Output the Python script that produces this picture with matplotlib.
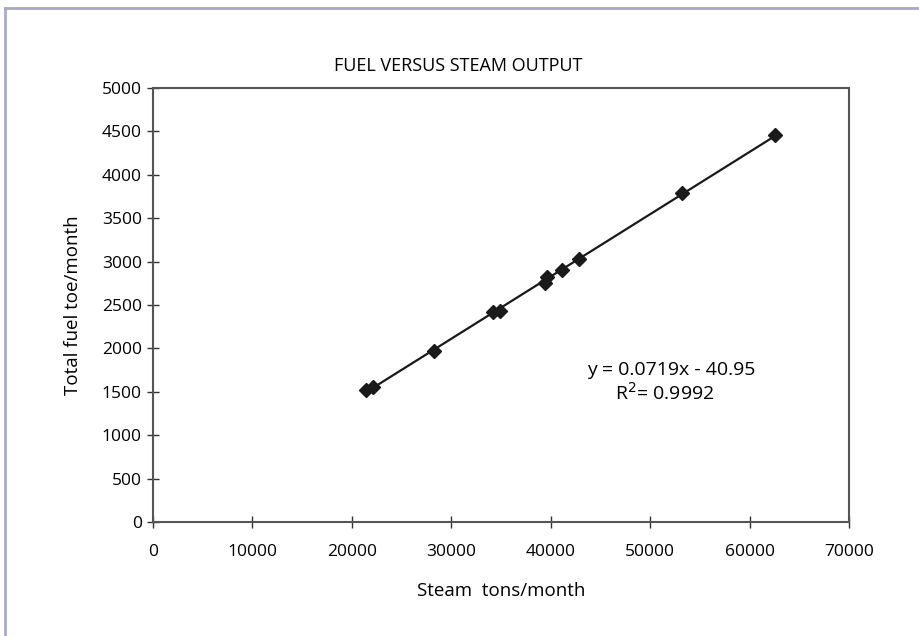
import numpy as np
import matplotlib
matplotlib.use("Agg")
import matplotlib.pyplot as plt
from matplotlib.lines import Line2D

steam = [21400, 22100, 28300, 34200, 34900, 39400, 39600, 41100, 42800, 53200, 62600]
fuel = [1520, 1560, 1970, 2420, 2430, 2750, 2820, 2900, 3030, 3790, 4460]
x_ticks = [0, 10000, 20000, 30000, 40000, 50000, 60000, 70000]
y_ticks = [0, 500, 1000, 1500, 2000, 2500, 3000, 3500, 4000, 4500, 5000]

plt.rcParams['font.family'] = ['Open Sans', 'DejaVu Sans']

fig = plt.figure(figsize=(9.2, 6.36), dpi=100)
ax = fig.add_axes([153/920, 1-522/636, (849-153)/920, (522-88)/636])

slope, intercept = np.polyfit(steam, fuel, 1)
xs = np.array([min(steam), max(steam)])
ax.plot(xs, slope*xs + intercept, color='#1a1a1a', lw=1.6, zorder=2)
ax.plot(steam, fuel, linestyle='none', marker='D', markersize=7, color='#1a1a1a', zorder=3)

ax.set_xlim(0, 70000)
ax.set_ylim(0, 5000)
ax.set_xticks(x_ticks)
ax.set_yticks(y_ticks)
ax.set_xticklabels([str(v) for v in x_ticks])
ax.set_yticklabels([str(v) for v in y_ticks])
for s in ax.spines.values():
    s.set_color('#555555')
    s.set_linewidth(1.5)
ax.tick_params(direction='inout', length=8, width=1, color='#333333', labelsize=12.5)
ax.tick_params(axis='x', pad=12)
ax.tick_params(axis='y', pad=4)

fig.text(458/920, 1-66/636, 'FUEL VERSUS STEAM OUTPUT', ha='center', va='center', fontsize=13)
ax.set_xlabel('Steam  tons/month', fontsize=13.5, labelpad=16)
ax.set_ylabel('Total fuel toe/month', fontsize=13.5, labelpad=14)

ax.text(0.745, 0.35, 'y = 0.0719x - 40.95', transform=ax.transAxes, ha='center', va='center', fontsize=14)
ax.text(0.735, 0.298, 'R$^2$= 0.9992', transform=ax.transAxes, ha='center', va='center', fontsize=14)

fig.add_artist(Line2D([5/920, 5/920], [0, 1-8/636], transform=fig.transFigure, color='#a8a8cc', lw=2))
fig.add_artist(Line2D([5/920, 1], [1-8/636, 1-8/636], transform=fig.transFigure, color='#a8a8cc', lw=2))

fig.savefig('out.png', dpi=100)
